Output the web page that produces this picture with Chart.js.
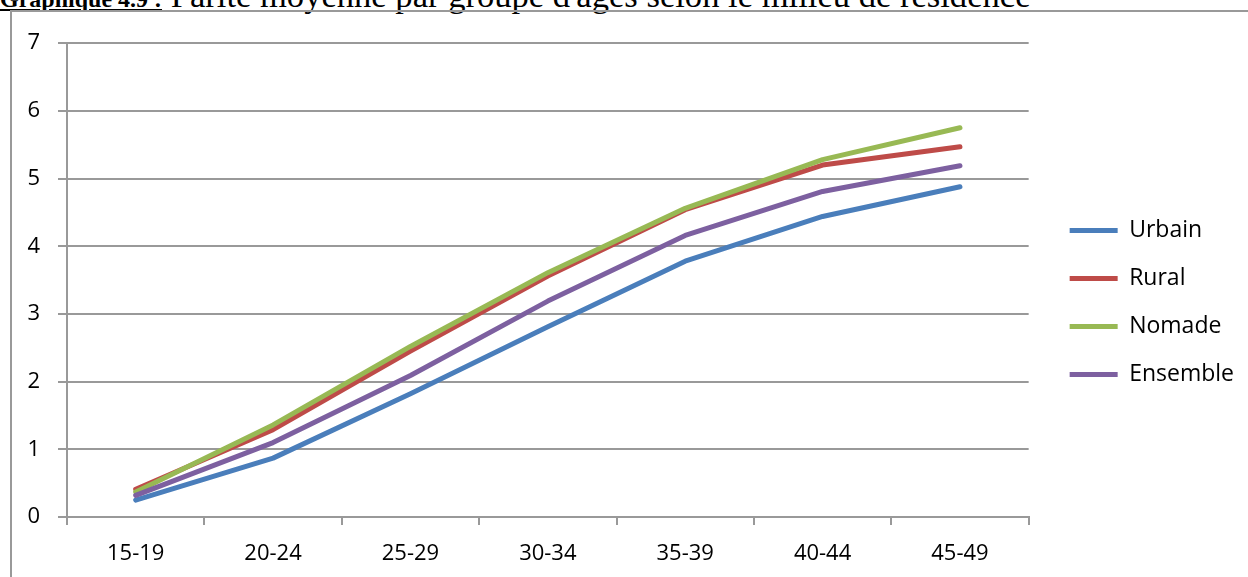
<!DOCTYPE html>
<html>
<head>
<meta charset="utf-8">
<script src="https://cdn.jsdelivr.net/npm/chart.js@4.4.1/dist/chart.umd.min.js"></script>
<style>
  html, body { margin: 0; padding: 0; background: #fff; overflow: hidden; }
  #title {
    position: absolute; left: 0; top: -22px; white-space: nowrap;
    font-family: "Liberation Serif", "Times New Roman", serif;
    font-size: 34.6px; line-height: 34px; color: #000;
  }
  #title b { text-decoration: underline; font-size: 24px; }
  #frame {
    position: absolute; left: 10px; top: 10px; width: 1240px; height: 570px;
    border-left: 2px solid #999; border-top: 2px solid #999;
  }
  #wrap { position: absolute; left: 12px; top: 12px; width: 1236px; height: 565px; }
</style>
</head>
<body>
<div id="title"><b>Graphique 4.9 :</b> Parité moyenne par groupe d'âges selon le milieu de résidence</div>
<div id="frame"></div>
<div id="wrap"><canvas id="myChart"></canvas></div>
<script>
const ageGroups = ['15-19', '20-24', '25-29', '30-34', '35-39', '40-44', '45-49'];
const urbain = [0.25, 0.87, 1.82, 2.81, 3.78, 4.44, 4.88];
const rural = [0.41, 1.29, 2.45, 3.56, 4.54, 5.20, 5.47];
const nomade = [0.37, 1.36, 2.52, 3.61, 4.56, 5.28, 5.75];
const ensemble = [0.32, 1.10, 2.09, 3.19, 4.16, 4.81, 5.19];

const gridColor = '#999';

function serie(label, values, color, order) {
    return {
        label: label,
        data: values,
        borderColor: color,
        backgroundColor: color,
        borderWidth: 5,
        borderCapStyle: 'round',
        borderJoinStyle: 'round',
        pointRadius: 0,
        pointHoverRadius: 0,
        tension: 0,
        order: order
    };
}

const data = {
    labels: ageGroups,
    datasets: [
        serie('Urbain', urbain, '#4A7EBB', 4),
        serie('Rural', rural, '#BE4B48', 3),
        serie('Nomade', nomade, '#98B954', 2),
        serie('Ensemble', ensemble, '#7D60A0', 1)
    ]
};

const config = {
    type: 'line',
    data: data,
    options: {
        responsive: true,
        maintainAspectRatio: false,
        animation: false,
        layout: { padding: { top: 30, left: 0, right: 4, bottom: 14 } },
        font: { family: '"Open Sans"', size: 22 },
        scales: {
            x: {
                offset: true,
                grid: { offset: true, drawOnChartArea: false, drawTicks: true, tickLength: 8, color: gridColor, lineWidth: 2 },
                border: { display: true, color: gridColor, width: 2 },
                ticks: { color: '#000', padding: 16, font: { family: '"Open Sans"', size: 22 } },
                afterFit: (s) => { s.height = 46; }
            },
            y: {
                min: 0,
                max: 7,
                ticks: { stepSize: 1, color: '#000', padding: 18, font: { family: '"Open Sans"', size: 22 } },
                grid: { color: gridColor, lineWidth: 2, tickLength: 9 },
                border: { display: true, color: gridColor, width: 2 },
                afterFit: (s) => { s.width = 55; }
            },
            y2: {
                position: 'right',
                display: true,
                grid: { display: false },
                border: { display: false },
                ticks: { display: false },
                afterFit: (s) => { s.width = 16; }
            }
        },
        plugins: {
            tooltip: { enabled: false },
            legend: {
                position: 'right',
                reverse: true,
                labels: {
                    usePointStyle: true,
                    pointStyle: 'line',
                    pointStyleWidth: 48,
                    padding: 25,
                    color: '#000',
                    font: { family: '"Open Sans"', size: 23 }
                }
            }
        }
    }
};

const myChart = new Chart(
    document.getElementById('myChart'),
    config
);
</script>
</body>
</html>
